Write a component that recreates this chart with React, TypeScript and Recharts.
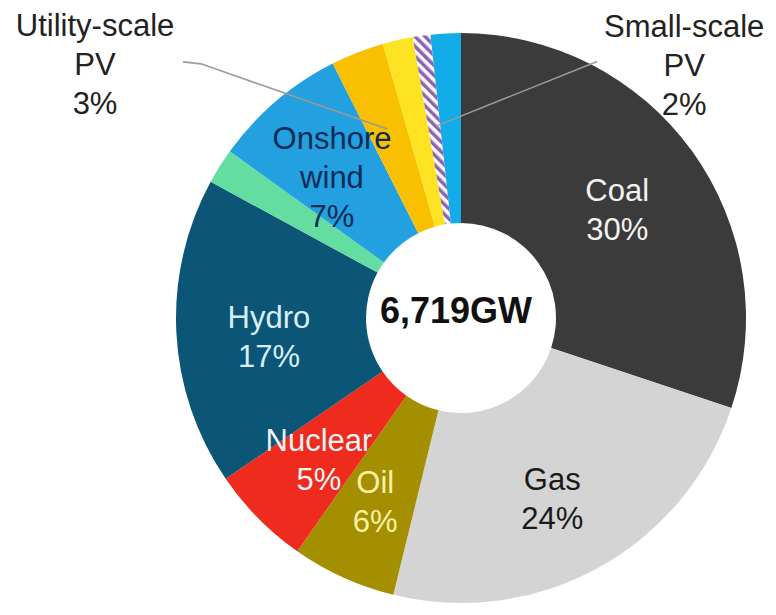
import { PieChart, Pie, Cell } from 'recharts';

// installed capacity mix, share of total
const categories = [
  'Coal', 'Gas', 'Oil', 'Nuclear', 'Hydro', 'Biomass',
  'Onshore wind', 'Utility-scale PV', 'Small-scale PV', 'Other', 'Offshore wind',
];
const shares = [30, 23.6, 5.9, 5.7, 17.4, 2.0, 7.6, 3.0, 1.7, 1.0, 1.7];
const labelLines: string[][] = [
  ['Coal', '30%'],
  ['Gas', '24%'],
  ['Oil', '6%'],
  ['Nuclear', '5%'],
  ['Hydro', '17%'],
  [],
  ['Onshore', 'wind', '7%'],
  ['Utility-scale', 'PV', '3%'],
  ['Small-scale', 'PV', '2%'],
  [],
  [],
];
const totalLabel = '6,719GW';

const colors = [
  '#3b3b3b', '#d4d4d4', '#a38f00', '#ee2b1d', '#0b5577', '#63dea0',
  '#22a0e0', '#f8c000', '#fde322', 'url(#hatch)', '#12ade8',
];
const textColors = [
  '#f2f2f2', '#1a1a1a', '#fbefa4', '#ecf3f6', '#d8eef8', '#000',
  '#0d2b57', '#222', '#222', '#000', '#000',
];

// label placement: distance from centre and angle shift from the slice mid-angle
const labelRadius = [190, 203, 203, 201, 193, 0, 191, 445, 337, 0, 0];
const labelShift = [-1.1, -2.2, -0.6, 0.4, 2.8, 0, 2, 34, -54.3, 0, 0];

// leader lines for the two outside labels
const leaders: Record<number, { start: [number, number]; elbow?: [number, number]; tipR: number; tipShift: number }> = {
  7: { start: [88, -3], elbow: [106, -1], tipR: 203, tipShift: 0 },
  8: { start: [-87, -4], tipR: 194, tipShift: -6 },
};

const data = categories.map((name, i) => ({ name, value: shares[i] }));

const CX = 461;
const CY = 318;
const FONT = '"Liberation Sans", Arial, sans-serif';
const RAD = Math.PI / 180;

const polar = (cx: number, cy: number, r: number, a: number) => ({
  x: cx + r * Math.cos(-a * RAD),
  y: cy + r * Math.sin(-a * RAD),
});

function renderLabel(props: any) {
  const { cx, cy, midAngle, index } = props;
  const lines = labelLines[index];
  if (!lines || !lines.length) return null;
  const p = polar(cx, cy, labelRadius[index], midAngle + labelShift[index]);
  const lh = 39;
  const top = p.y - ((lines.length - 1) * lh) / 2;
  const ld = leaders[index];
  let path = '';
  if (ld) {
    const tip = polar(cx, cy, ld.tipR, midAngle + ld.tipShift);
    path = `M${p.x + ld.start[0]},${p.y + ld.start[1]}`;
    if (ld.elbow) path += ` L${p.x + ld.elbow[0]},${p.y + ld.elbow[1]}`;
    path += ` L${tip.x},${tip.y}`;
  }
  return (
    <g key={`lbl-${index}`}>
      {ld && <path d={path} stroke="#9a9a9a" strokeWidth={1.6} fill="none" />}
      {lines.map((t, i) => (
        <text
          key={i}
          x={p.x}
          y={top + i * lh}
          textAnchor="middle"
          dominantBaseline="central"
          fill={textColors[index]}
          fontSize={31}
          fontFamily={FONT}
        >
          {t}
        </text>
      ))}
    </g>
  );
}

export default function App() {
  return (
    <div style={{ position: 'absolute', left: 0, top: 0, width: 776, height: 615, background: '#fff' }}>
      <PieChart width={776} height={615} margin={{ top: 0, right: 0, bottom: 0, left: 0 }}>
        <defs>
          <pattern id="hatch" patternUnits="userSpaceOnUse" width="7" height="7" patternTransform="rotate(-45)">
            <rect width="7" height="7" fill="#ffffff" />
            <rect width="3.5" height="7" fill="#8e62b5" />
          </pattern>
        </defs>
        <Pie
          data={data}
          dataKey="value"
          nameKey="name"
          cx={CX}
          cy={CY}
          innerRadius={95}
          outerRadius={285}
          startAngle={90}
          endAngle={-270}
          stroke="none"
          label={renderLabel}
          labelLine={false}
          isAnimationActive={false}
        >
          {data.map((d, i) => (
            <Cell key={d.name} fill={colors[i]} />
          ))}
        </Pie>
        <text
          x={CX - 5}
          y={CY - 8}
          textAnchor="middle"
          dominantBaseline="central"
          fontSize={36}
          fontWeight="bold"
          fontFamily={FONT}
          fill="#111"
        >
          {totalLabel}
        </text>
      </PieChart>
    </div>
  );
}
